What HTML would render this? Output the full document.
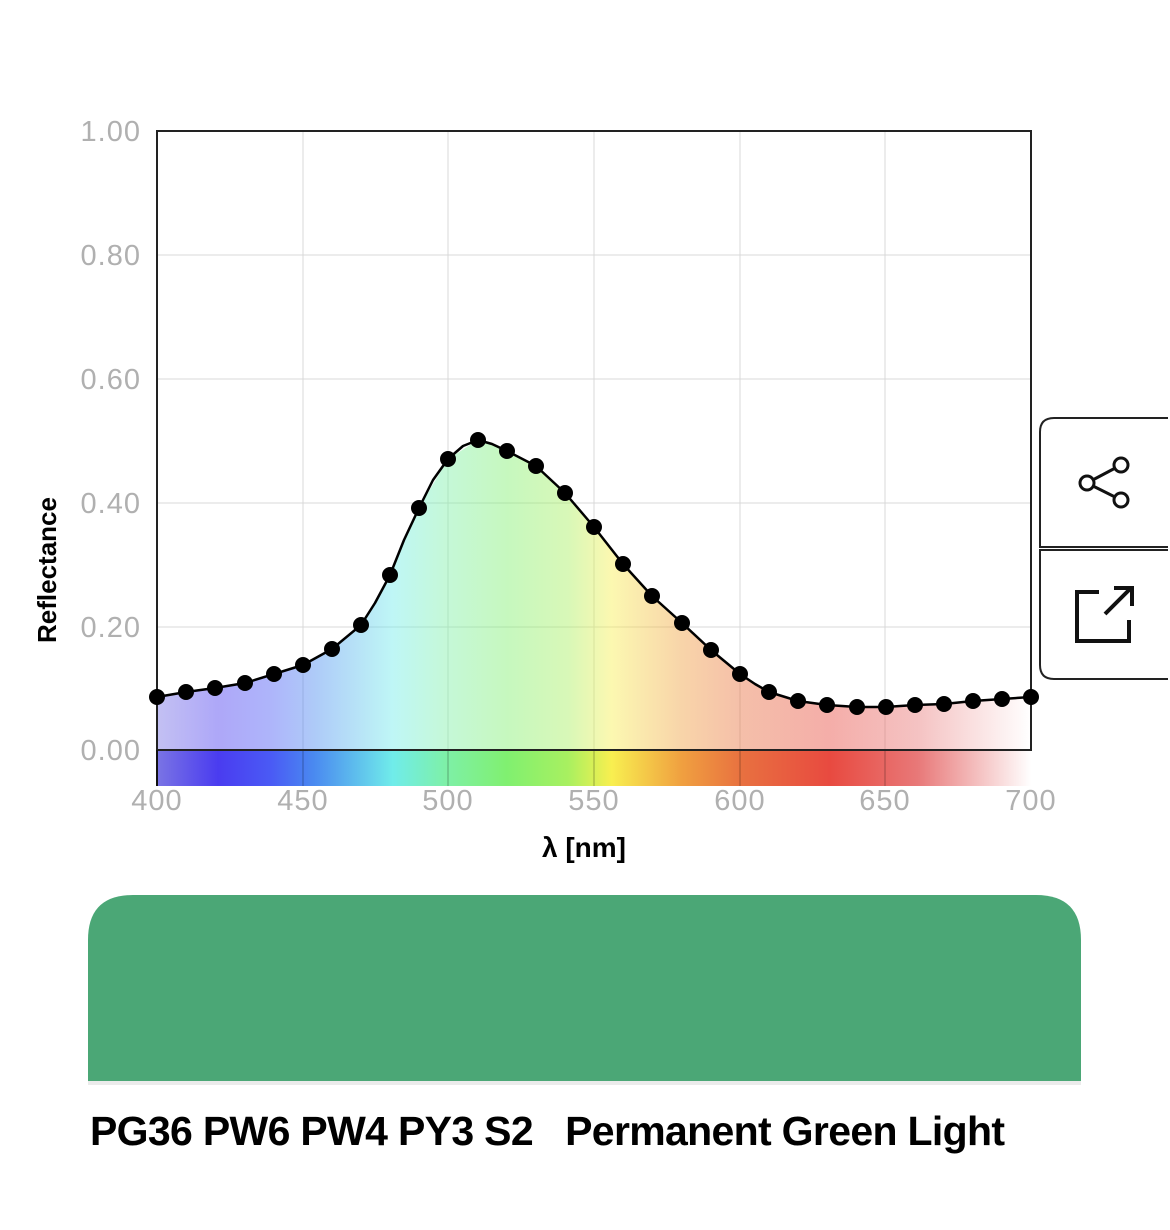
<!DOCTYPE html>
<html><head><meta charset="utf-8"><style>
html,body{margin:0;padding:0;background:#fff;}
body{width:1170px;height:1225px;overflow:hidden;}
</style></head><body>
<svg width="1170" height="1225" viewBox="0 0 1170 1225" xmlns="http://www.w3.org/2000/svg" font-family="Liberation Sans, sans-serif">
<defs>
<linearGradient id="spec" x1="157" x2="1031" y1="0" y2="0" gradientUnits="userSpaceOnUse">
<stop offset="0" stop-color="#7a74e4"/>
<stop offset="0.07" stop-color="#4a3cf0"/>
<stop offset="0.13" stop-color="#4a5af5"/>
<stop offset="0.18" stop-color="#4a8af0"/>
<stop offset="0.27" stop-color="#70ecea"/>
<stop offset="0.33" stop-color="#7ef0a8"/>
<stop offset="0.40" stop-color="#80f070"/>
<stop offset="0.47" stop-color="#a8f060"/>
<stop offset="0.52" stop-color="#f8ef50"/>
<stop offset="0.60" stop-color="#f0a040"/>
<stop offset="0.67" stop-color="#e87040"/>
<stop offset="0.77" stop-color="#e84a40"/>
<stop offset="0.87" stop-color="#e87878"/>
<stop offset="1" stop-color="#ffffff"/>
</linearGradient>
</defs>
<g stroke="#d8d8d8" stroke-width="1">
<line x1="157" x2="1031" y1="255" y2="255"/>
<line x1="157" x2="1031" y1="379" y2="379"/>
<line x1="157" x2="1031" y1="503" y2="503"/>
<line x1="157" x2="1031" y1="627" y2="627"/>
<line x1="303" x2="303" y1="131" y2="750"/>
<line x1="448" x2="448" y1="131" y2="750"/>
<line x1="594" x2="594" y1="131" y2="750"/>
<line x1="740" x2="740" y1="131" y2="750"/>
<line x1="885" x2="885" y1="131" y2="750"/>
</g>
<polygon fill="url(#spec)" opacity="0.45" points="157,750 157,697 186,692 215,688 245,683 274,674 303,665 332,649 361,625 390,575 419,508 448,459 478,440 507,451 536,466 565,493 594,527 623,564 652,596 682,623 711,650 740,674 769,692 798,701 827,705 857,707 886,707 915,705 944,704 973,701 1002,699 1031,697 1031,750"/>
<rect x="157" y="750" width="874" height="36" fill="url(#spec)"/>
<g stroke="#000" stroke-opacity="0.3"><line x1="303" x2="303" y1="750" y2="786"/><line x1="448" x2="448" y1="750" y2="786"/><line x1="594" x2="594" y1="750" y2="786"/><line x1="740" x2="740" y1="750" y2="786"/><line x1="885" x2="885" y1="750" y2="786"/></g>
<rect x="157" y="131" width="874" height="619" fill="none" stroke="#222" stroke-width="2"/>
<line x1="157" x2="157" y1="750" y2="786" stroke="#111" stroke-width="2"/>
<polyline fill="none" stroke="#000" stroke-width="2.5" stroke-linejoin="round" points="157,697 186,692 215,688 245,683 274,674 303,665 332,649 361,625 375,603 390,575 404,540 419,508 433,480 448,459 463,446 478,440 492,444 507,451 536,466 565,493 594,527 623,564 652,596 682,623 711,650 740,674 755,684 769,692 798,701 827,705 857,707 886,707 915,705 944,704 973,701 1002,699 1031,697"/>
<g fill="#000">
<circle cx="157" cy="697" r="8"/><circle cx="186" cy="692" r="8"/><circle cx="215" cy="688" r="8"/><circle cx="245" cy="683" r="8"/><circle cx="274" cy="674" r="8"/><circle cx="303" cy="665" r="8"/><circle cx="332" cy="649" r="8"/><circle cx="361" cy="625" r="8"/><circle cx="390" cy="575" r="8"/><circle cx="419" cy="508" r="8"/><circle cx="448" cy="459" r="8"/><circle cx="478" cy="440" r="8"/><circle cx="507" cy="451" r="8"/><circle cx="536" cy="466" r="8"/><circle cx="565" cy="493" r="8"/><circle cx="594" cy="527" r="8"/><circle cx="623" cy="564" r="8"/><circle cx="652" cy="596" r="8"/><circle cx="682" cy="623" r="8"/><circle cx="711" cy="650" r="8"/><circle cx="740" cy="674" r="8"/><circle cx="769" cy="692" r="8"/><circle cx="798" cy="701" r="8"/><circle cx="827" cy="705" r="8"/><circle cx="857" cy="707" r="8"/><circle cx="886" cy="707" r="8"/><circle cx="915" cy="705" r="8"/><circle cx="944" cy="704" r="8"/><circle cx="973" cy="701" r="8"/><circle cx="1002" cy="699" r="8"/><circle cx="1031" cy="697" r="8"/>
</g>
<g fill="#b0b0b0" font-size="29" text-anchor="end" letter-spacing="1">
<text x="141" y="141">1.00</text>
<text x="141" y="265">0.80</text>
<text x="141" y="389">0.60</text>
<text x="141" y="513">0.40</text>
<text x="141" y="637">0.20</text>
<text x="141" y="760">0.00</text>
</g>
<g fill="#b0b0b0" font-size="29" text-anchor="middle" letter-spacing="1">
<text x="157" y="810">400</text>
<text x="303" y="810">450</text>
<text x="448" y="810">500</text>
<text x="594" y="810">550</text>
<text x="740" y="810">600</text>
<text x="885" y="810">650</text>
<text x="1031" y="810">700</text>
</g>
<text x="584" y="857" font-size="28" font-weight="bold" text-anchor="middle" fill="#000">λ [nm]</text>
<text transform="translate(56,570) rotate(-90)" font-size="26" font-weight="bold" text-anchor="middle" fill="#000">Reflectance</text>
<path d="M1168,418 L1054,418 Q1040,418 1040,432 L1040,547 L1168,547" fill="#fff" stroke="#222" stroke-width="2"/>
<path d="M1168,550 L1040,550 L1040,665 Q1040,679 1054,679 L1168,679" fill="#fff" stroke="#222" stroke-width="2"/>
<g stroke="#111" stroke-width="3" fill="none">
<line x1="1087" y1="483" x2="1121" y2="465"/><line x1="1087" y1="483" x2="1121" y2="500"/>
<circle cx="1087" cy="483" r="7" fill="#fff"/><circle cx="1121" cy="465" r="7" fill="#fff"/><circle cx="1121" cy="500" r="7" fill="#fff"/>
<path d="M1099,592 L1077,592 L1077,641 L1129,641 L1129,620" stroke-width="4"/>
<path d="M1105,614 L1131,588 M1114,588 L1132,588 L1132,606" stroke-width="4"/>
</g>
<path d="M88,1081 L88,940 Q88,895 133,895 L1036,895 Q1081,895 1081,940 L1081,1081 Z" fill="#4ba776"/>
<rect x="88" y="1081" width="993" height="4" fill="#000" opacity="0.08"/>
<text x="90" y="1145" font-size="41" font-weight="bold" fill="#000" textLength="915" xml:space="preserve">PG36 PW6 PW4 PY3 S2   Permanent Green Light</text>
</svg>
</body></html>
